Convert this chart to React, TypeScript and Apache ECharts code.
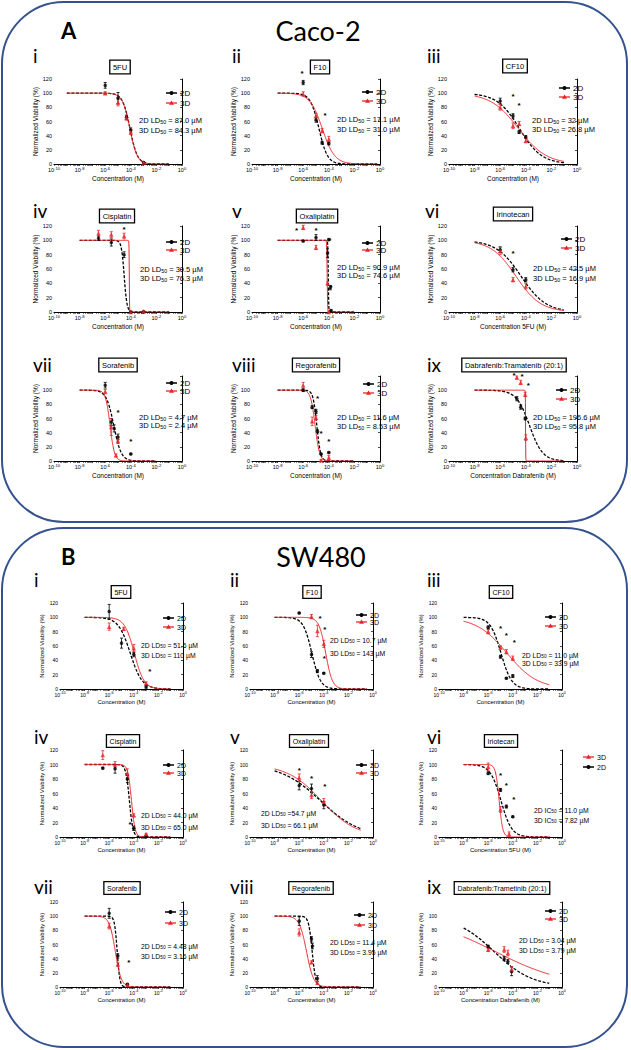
import React, { useEffect, useRef } from 'react';
import * as echarts from 'echarts';

// ---------------- DATA ----------------
const panelTitles = [
  '5FU', 'F10', 'CF10', 'Cisplatin', 'Oxaliplatin', 'Irinotecan', 'Sorafenib', 'Regorafenib', 'Dabrafenib:Tramatenib (20:1)',
  '5FU', 'F10', 'CF10', 'Cisplatin', 'Oxaliplatin', 'Iriotecan', 'Sorafenib', 'Regorafenib', 'Dabrafenib:Trametinib (20:1)',
];
const romanNumerals = ['i', 'ii', 'iii', 'iv', 'v', 'vi', 'vii', 'viii', 'ix', 'i', 'ii', 'iii', 'iv', 'v', 'vi', 'vii', 'viii', 'ix'];
const xAxisTitles = [
  'Concentration (M)', 'Concentration (M)', 'Concentration (M)', 'Concentration (M)', 'Concentration (M)', 'Concentration 5FU (M)',
  'Concentration (M)', 'Concentration (M)', 'Concentration Dabrafenib (M)',
  'Concentration (M)', 'Concentration (M)', 'Concentration (M)', 'Concentration (M)', 'Concentration (M)', 'Concentration 5FU (M)',
  'Concentration (M)', 'Concentration (M)', 'Concentration Dabrafenib (M)',
];
const statNames = ['LD', 'LD', 'LD', 'LD', 'LD', 'LD', 'LD', 'LD', 'LD', 'LD', 'LD', 'LD', 'LD', 'LD', 'IC', 'LD', 'LD', 'LD'];
const ld50Text2D = ['= 87.0', '= 17.1', '= 32', '= 30.5', '= 90.9', '= 42.5', '= 4.7', '= 11.6', '= 196.6',
  '= 51.6', '= 10.7', '= 11.0', '= 44.0', '=54.7', '= 11.0', '= 4.48', '= 11.4', '= 3.04'];
const ld50Text3D = ['= 84.3', '= 31.0', '= 26.8', '= 76.3', '= 74.6', '= 16.9', '= 2.4', '= 8.53', '= 95.8',
  '= 110', '= 143', '= 33.9', '= 65.0', '= 66.1', '= 7.82', '= 3.16', '= 3.95', '= 3.79'];
// fitted parameters (µM and Hill slope)
const ld50_2D = [87.0, 17.1, 32, 30.5, 90.9, 42.5, 4.7, 11.6, 196.6, 51.6, 10.7, 11.0, 44.0, 54.7, 11.0, 4.48, 11.4, 3.04];
const ld50_3D = [84.3, 31.0, 26.8, 76.3, 74.6, 16.9, 2.4, 8.53, 95.8, 110, 143, 33.9, 65.0, 66.1, 7.82, 3.16, 3.95, 3.79];
const hill2D = [1.5, 1.3, 0.5, 4, 25, 0.45, 1.5, 3, 0.85, 0.9, 1.24, 1.0, 3, 0.27, 1.0, 4, 3, 0.28];
const hill3D = [1.5, 0.9, 0.4, 40, 25, 0.45, 2.5, 2.5, 60, 1.1, 1.6, 0.35, 3, 0.31, 3, 1.8, 1.5, 0.15];
const fitRangeLog = [
  [-9, -1], [-8, -0.2], [-8, -1], [-8, -1], [-8, -2], [-8, -1], [-8, -2], [-8, -2], [-8, -1],
  [-8, -1], [-8, -0.5], [-8, -1], [-8, -1], [-8, -1], [-8, -1], [-8, -1], [-8, -1], [-8, -1],
];
// [concentration (M), viability (%), error]
const points2D = [
  [[1e-6, 111, 4], [1e-5, 93, 8], [4.6e-5, 66, 3], [1e-4, 48, 3], [1e-3, 2, 1]],
  [[1e-6, 115, 3], [1e-5, 62, 3], [3e-5, 30, 2], [1e-4, 29, 2]],
  [[1e-6, 89, 4], [1e-5, 68, 3], [3e-5, 45, 2], [1e-4, 38, 2]],
  [[3e-7, 103, 3], [3e-6, 97, 5], [3e-5, 80, 4], [1e-4, 0, 1], [1e-3, 0, 1]],
  [[1e-6, 99, 1], [1e-5, 104, 4], [8e-5, 82, 6], [1e-4, 101, 1], [1.3e-4, 34, 3], [1.5e-4, 2, 1]],
  [[1e-6, 87, 4], [1e-5, 59, 3], [1e-4, 45, 3]],
  [[1e-6, 107, 4], [3e-6, 55, 5], [5e-6, 46, 5], [1e-5, 34, 4], [1e-4, 10, 1]],
  [[1e-6, 100, 2], [5e-6, 76, 2], [1e-5, 70, 3], [1.3e-5, 42, 2], [2.5e-5, 10, 1], [1e-4, 12, 1]],
  [[2e-5, 88, 3], [4e-5, 76, 3], [9e-5, 60, 2]],
  [[1e-6, 108, 10], [1e-5, 64, 7], [1e-4, 48, 3], [1e-3, 3, 2]],
  [[1e-6, 106, 1], [1e-5, 48, 4], [3e-5, 25, 2], [1e-4, 22, 1]],
  [[1e-6, 86, 2], [1e-5, 45, 2], [3e-5, 15, 1], [1e-4, 18, 2]],
  [[3e-7, 95, 1], [3e-6, 94, 6], [3e-5, 80, 5], [1e-4, 12, 3], [1e-3, 1, 1]],
  [[1e-6, 71, 6], [1e-5, 67, 6], [1e-4, 44, 5]],
  [[1e-6, 88, 2], [1e-5, 65, 2], [3e-5, 42, 2], [1e-4, 28, 1]],
  [[1e-6, 104, 7], [5e-6, 44, 3], [3e-5, 4, 1]],
  [[1e-6, 93, 6], [1e-5, 68, 3], [1.2e-5, 58, 4], [3e-5, 12, 4]],
  [[1e-6, 57, 2], [2e-5, 40, 3], [4e-5, 36, 3], [8e-5, 22, 6]],
];
const points3D = [
  [[1e-6, 100, 2], [1e-5, 87, 5], [4.6e-5, 65, 3], [1e-4, 45, 3], [1e-3, 2, 1]],
  [[1e-6, 99, 3], [1e-5, 68, 3], [3e-5, 47, 3], [1e-4, 35, 4]],
  [[1e-6, 80, 4], [1e-5, 54, 4], [3e-5, 57, 3], [1e-4, 33, 3]],
  [[3e-7, 110, 4], [3e-6, 108, 4], [3e-5, 106, 4], [1e-4, 0, 1], [1e-3, 1, 1]],
  [[1e-6, 118, 3], [1e-5, 90, 3], [8e-5, 40, 2], [1e-4, 0, 1]],
  [[1e-6, 85, 5], [1e-5, 45, 3], [1e-4, 36, 4]],
  [[1e-6, 98, 3], [3e-6, 48, 12], [7e-6, 8, 2], [1e-5, 28, 3]],
  [[1e-6, 107, 4], [5e-6, 56, 6], [1e-5, 61, 3], [2.5e-5, 1, 1], [1e-4, 5, 3]],
  [[2e-5, 118, 2], [4e-5, 111, 3], [9e-5, 94, 3], [1e-4, 33, 4]],
  [[1e-6, 87, 5], [1.5e-5, 84, 2], [1e-4, 57, 5], [1e-3, 8, 2]],
  [[1e-5, 101, 3], [3e-5, 81, 8], [1e-4, 63, 5]],
  [[1e-6, 80, 3], [1e-5, 58, 2], [3e-5, 52, 3], [1e-4, 43, 3]],
  [[3e-7, 113, 6], [3e-6, 100, 4], [3e-5, 88, 6], [1e-4, 30, 2], [1e-3, 4, 1]],
  [[1e-6, 82, 5], [1e-5, 58, 5], [1e-4, 49, 4]],
  [[1e-6, 97, 5], [1e-5, 38, 4], [5e-5, 4, 3]],
  [[1e-6, 86, 4], [5e-6, 32, 3], [3e-5, 3, 1]],
  [[1e-6, 77, 5], [1e-5, 35, 2], [3e-5, 6, 2]],
  [[1e-6, 53, 3], [2e-5, 53, 4], [4e-5, 48, 4], [8e-5, 25, 4]],
];
// significance asterisks [concentration (M), height (%)]
const starMarks = [
  [], [[8e-7, 130], [5e-5, 72]], [[1e-5, 98], [3e-5, 85]],
  [[3e-5, 118]], [[3e-7, 116], [1e-5, 116], [1.2e-4, 103], [1.5e-4, 37]], [[1e-5, 84]],
  [[1e-5, 72], [1e-4, 30]], [[1.3e-5, 91], [2.5e-5, 42], [1e-4, 31]], [[1.2e-5, 123], [5e-5, 122], [1.6e-4, 110]],
  [[2e-3, 27]], [[5e-5, 101], [1.2e-4, 86], [1.1e-4, 46]], [[1e-5, 87], [3e-5, 78], [1.3e-4, 67]],
  [[5e-5, 20]], [[1e-6, 95], [1e-5, 84], [1.2e-4, 73]], [[1e-5, 88], [3e-5, 74], [1.2e-4, 55]],
  [[4e-5, 38]], [], [],
];
const xTickLabels = [-10, -8, -6, -4, -2, 0];
// panels whose top "120" tick label is hidden behind the title row in the reference
const hideTopLabel = [6, 7, 8, 17];

// ---------------- LAYOUT ----------------
const A_COL_LEFT = [54, 252, 449];
const B_COL_LEFT = [60, 250, 439];
const A_ROW_TOP = [79, 226, 376];
const B_ROW_TOP = [603, 750, 902];
const A_ROW_H = [85, 86, 85];
const B_ROW_H = [86, 87, 85];
const A_W = 128;
const B_W = 123;
const romanPos = [[33, 55], [232, 55], [427, 55], [33, 210], [232, 210], [425, 210], [33, 364], [232, 364], [427, 364],
  [34, 579], [230, 579], [427, 579], [34, 736], [230, 736], [427, 736], [34, 886], [230, 886], [427, 886]];
const boxPos = [[120, 67], [320, 67], [515, 66], [117, 216], [317, 216], [513, 214], [118, 365], [316, 365], [514, 365],
  [121, 592], [312, 592], [501, 592], [123, 741], [309, 741], [501, 741], [122, 888], [311, 888], [502, 888]];
const legendX = [166, 362, 559, 166, 362, 561, 166, 363, 556, 163, 356, 545, 163, 356, 583, 165, 354, 545];
const legendY2D = [93, 92, 88, 242, 243, 239, 383, 384, 390, 618, 615, 617, 765, 765, 767, 912, 915, 911];
const legendY3D = [103, 101, 97, 250, 250, 248, 391, 393, 399, 627, 622, 626, 773, 773, 757, 923, 925, 919];
const ldX = [139, 337, 532, 140, 337, 533, 139, 337, 533, 141, 330, 522, 141, 261, 534, 141, 330, 519];
const ldY1 = [120, 119, 120, 269, 267, 268, 417, 417, 417, 645, 640, 655, 815, 813, 810, 946, 942, 940];
const ldY2 = [130, 129, 129, 278, 275, 278, 425, 426, 426, 655, 653, 663, 827, 825, 820, 956, 952, 950];

const SANS = '"Liberation Sans", Arial, sans-serif';
const CAL = 'Lato, "Open Sans", sans-serif';
const RED = '#e8262a';
const BLUE = '#34528f';

function hill(lx: number, ldUM: number, h: number) {
  return 100 / (1 + Math.pow(10, (lx - Math.log10(ldUM * 1e-6)) * h));
}
function curve(i: number, ld: number, h: number) {
  const [a, b] = fitRangeLog[i];
  const out: number[][] = [];
  const n = Math.round((b - a) / 0.01);
  for (let k = 0; k <= n; k++) {
    const lx = a + (k * (b - a)) / n;
    out.push([lx, hill(lx, ld, h)]);
  }
  return out;
}

function buildOption() {
  const grids: any[] = [];
  const xAxes: any[] = [];
  const yAxes: any[] = [];
  const series: any[] = [];
  const g: any[] = [];

  const minorTicks: number[] = [];
  for (let n = -10; n < 0; n++) for (let k = 1; k <= 9; k++) minorTicks.push(n + Math.log10(k));
  minorTicks.push(0);

  // boxes and section titles
  g.push({ type: 'rect', shape: { x: 2, y: 2, width: 625, height: 520, r: 62 }, style: { fill: 'none', stroke: BLUE, lineWidth: 2 } });
  g.push({ type: 'rect', shape: { x: 2, y: 528, width: 625, height: 519, r: 62 }, style: { fill: 'none', stroke: BLUE, lineWidth: 2 } });
  g.push({ type: 'text', x: 61, y: 30, style: { text: 'A', fontSize: 22, fontWeight: 'bold', fontFamily: CAL, fill: '#000', verticalAlign: 'middle' } });
  g.push({ type: 'text', x: 318, y: 30, style: { text: 'Caco-2', fontSize: 27, fontFamily: CAL, fill: '#000', align: 'center', verticalAlign: 'middle' } });
  g.push({ type: 'text', x: 61, y: 556, style: { text: 'B', fontSize: 22, fontWeight: 'bold', fontFamily: CAL, fill: '#000', verticalAlign: 'middle' } });
  g.push({ type: 'text', x: 321, y: 556, style: { text: 'SW480', fontSize: 27, fontFamily: CAL, fill: '#000', align: 'center', verticalAlign: 'middle' } });

  for (let i = 0; i < 18; i++) {
    const isB = i >= 9;
    const col = i % 3;
    const row = Math.floor((i % 9) / 3);
    const left = isB ? B_COL_LEFT[col] : A_COL_LEFT[col];
    const top = isB ? B_ROW_TOP[row] : A_ROW_TOP[row];
    const height = isB ? B_ROW_H[row] : A_ROW_H[row];
    const width = isB ? B_W : A_W;
    const tickFs = isB ? 5 : 5.5;
    const nameFs = isB ? 6 : 6.5;
    const hideTop = hideTopLabel.indexOf(i) >= 0;
    grids.push({ left, top, width, height, containLabel: false });
    xAxes.push({
      gridIndex: i, type: 'value', min: -10, max: 0, interval: 2,
      name: xAxisTitles[i], nameLocation: 'middle', nameGap: isB ? 10 : 11,
      nameTextStyle: { fontSize: nameFs, fontFamily: SANS, color: '#000' },
      axisLine: { lineStyle: { color: '#000', width: 1 } },
      axisTick: { show: true, length: 2, customValues: minorTicks, lineStyle: { color: '#000', width: 0.5 } },
      axisLabel: {
        fontSize: tickFs, fontFamily: SANS, color: '#000', margin: 2,
        customValues: xTickLabels,
        formatter: (v: number) => `{b|10}{s|${Math.round(v)}}`,
        rich: {
          b: { fontSize: tickFs, fontFamily: SANS, color: '#000' },
          s: { fontSize: tickFs * 0.75, fontFamily: SANS, color: '#000', padding: [0, 0, 4, 0] },
        },
      },
      splitLine: { show: false },
    });
    yAxes.push({
      gridIndex: i, type: 'value', min: 0, max: 120, interval: 20,
      name: 'Normalized Viability (%)', nameLocation: 'middle', nameGap: isB ? 15 : 13,
      nameTextStyle: { fontSize: nameFs, fontFamily: SANS, color: '#000' },
      axisLine: { show: true, lineStyle: { color: '#000', width: 1 } },
      axisTick: { show: true, length: 2, lineStyle: { color: '#000', width: 0.7 } },
      axisLabel: {
        fontSize: tickFs, fontFamily: SANS, color: '#000', margin: 2,
        formatter: (v: number) => (hideTop && v === 120 ? '' : String(v)),
      },
      splitLine: { show: false },
    });

    // fitted curves
    series.push({
      type: 'line', xAxisIndex: i, yAxisIndex: i, data: curve(i, ld50_2D[i], hill2D[i]), showSymbol: false, symbol: 'none', silent: true,
      lineStyle: { color: '#000', width: 1.3, type: [3, 1.6] }, z: 3,
    });
    series.push({
      type: 'line', xAxisIndex: i, yAxisIndex: i, data: curve(i, ld50_3D[i], hill3D[i]), showSymbol: false, symbol: 'none', silent: true,
      lineStyle: { color: RED, width: 1 }, z: 4,
    });
    // error bars
    const errSeries = (pts: number[][], color: string) => ({
      type: 'custom', xAxisIndex: i, yAxisIndex: i, silent: true, z: 5,
      data: pts.map((p) => [Math.log10(p[0]), p[1], p[2]]),
      encode: { x: 0, y: 1 },
      renderItem: (_p: any, api: any) => {
        const x = api.value(0), y = api.value(1), e = api.value(2);
        const a = api.coord([x, y + e]);
        const b = api.coord([x, y - e]);
        const st = { stroke: color, lineWidth: 0.8 };
        return {
          type: 'group', children: [
            { type: 'line', shape: { x1: a[0], y1: a[1], x2: b[0], y2: b[1] }, style: st },
            { type: 'line', shape: { x1: a[0] - 1.5, y1: a[1], x2: a[0] + 1.5, y2: a[1] }, style: st },
            { type: 'line', shape: { x1: b[0] - 1.5, y1: b[1], x2: b[0] + 1.5, y2: b[1] }, style: st },
          ],
        };
      },
    });
    series.push(errSeries(points2D[i], '#000'));
    series.push(errSeries(points3D[i], RED));
    // data points
    series.push({
      type: 'scatter', xAxisIndex: i, yAxisIndex: i, silent: true, z: 6,
      data: points2D[i].map((p) => [Math.log10(p[0]), p[1]]),
      symbol: 'circle', symbolSize: 3.5, itemStyle: { color: '#000' },
    });
    series.push({
      type: 'scatter', xAxisIndex: i, yAxisIndex: i, silent: true, z: 7,
      data: points3D[i].map((p) => [Math.log10(p[0]), p[1]]),
      symbol: 'triangle', symbolSize: 4.5, itemStyle: { color: RED },
    });
    // asterisks
    series.push({
      type: 'custom', xAxisIndex: i, yAxisIndex: i, silent: true, z: 8,
      data: starMarks[i].map((p) => [Math.log10(p[0]), p[1]]),
      encode: { x: 0, y: 1 },
      renderItem: (_p: any, api: any) => {
        const c = api.coord([api.value(0), api.value(1)]);
        return {
          type: 'text', x: c[0], y: c[1] + 2,
          style: { text: '*', fill: '#000', fontSize: 8, fontWeight: 'bold', fontFamily: SANS, align: 'center', verticalAlign: 'middle' },
        };
      },
    });

    // roman numeral
    g.push({ type: 'text', x: romanPos[i][0], y: romanPos[i][1], style: { text: romanNumerals[i], fontSize: 19, fontFamily: CAL, fill: '#000', verticalAlign: 'middle' } });
    // drug title box
    g.push({
      type: 'text', x: boxPos[i][0], y: boxPos[i][1], z: 10,
      style: {
        text: panelTitles[i], fontSize: isB ? 7 : 7.5, fontFamily: SANS, fill: '#000', align: 'center', verticalAlign: 'middle',
        backgroundColor: '#fff', borderColor: '#000', borderWidth: 1.3, padding: [2.5, 2.5, 2, 2.5],
      },
    });
    // legend
    const lx = legendX[i];
    const lfs = isB ? 7 : 8;
    const ly2 = legendY2D[i];
    const ly3 = legendY3D[i];
    g.push({ type: 'line', shape: { x1: lx, y1: ly2, x2: lx + 11, y2: ly2 }, style: { stroke: '#000', lineWidth: 1.5 } });
    g.push({ type: 'circle', shape: { cx: lx + 5.5, cy: ly2, r: 2 }, style: { fill: '#000' } });
    g.push({ type: 'text', x: lx + 14, y: ly2, style: { text: '2D', fontSize: lfs, fontFamily: SANS, fill: '#000', verticalAlign: 'middle' } });
    g.push({ type: 'line', shape: { x1: lx, y1: ly3, x2: lx + 11, y2: ly3 }, style: { stroke: RED, lineWidth: 1.3 } });
    g.push({ type: 'polygon', shape: { points: [[lx + 5.5, ly3 - 2.6], [lx + 3, ly3 + 1.8], [lx + 8, ly3 + 1.8]] }, style: { fill: RED } });
    g.push({ type: 'text', x: lx + 14, y: ly3, style: { text: '3D', fontSize: lfs, fontFamily: SANS, fill: '#000', verticalAlign: 'middle' } });
    // LD50 / IC50 texts
    const dfs = isB ? 6.8 : 7.5;
    const rich = {
      n: { fontSize: dfs, fontFamily: SANS, fill: '#000', color: '#000' },
      sub: { fontSize: dfs * 0.7, fontFamily: SANS, fill: '#000', color: '#000', padding: [3, 0, 0, 0] },
    };
    g.push({ type: 'text', x: ldX[i], y: ldY1[i], style: { text: `{n|2D ${statNames[i]}}{sub|50}{n| ${ld50Text2D[i]} µM}`, rich, verticalAlign: 'middle' } });
    g.push({ type: 'text', x: ldX[i], y: ldY2[i], style: { text: `{n|3D ${statNames[i]}}{sub|50}{n| ${ld50Text3D[i]} µM}`, rich, verticalAlign: 'middle' } });
  }

  return {
    animation: false,
    backgroundColor: '#fff',
    grid: grids,
    xAxis: xAxes,
    yAxis: yAxes,
    series,
    graphic: { elements: g.map((e) => ({ silent: true, ...e })) },
  };
}

export default function App() {
  const ref = useRef<HTMLDivElement>(null);
  useEffect(() => {
    const chart = echarts.init(ref.current as HTMLDivElement, null, { renderer: 'svg' });
    chart.setOption(buildOption() as any);
    return () => chart.dispose();
  }, []);
  return <div ref={ref} style={{ position: 'absolute', left: 0, top: 0, width: 631, height: 1050 }} />;
}
